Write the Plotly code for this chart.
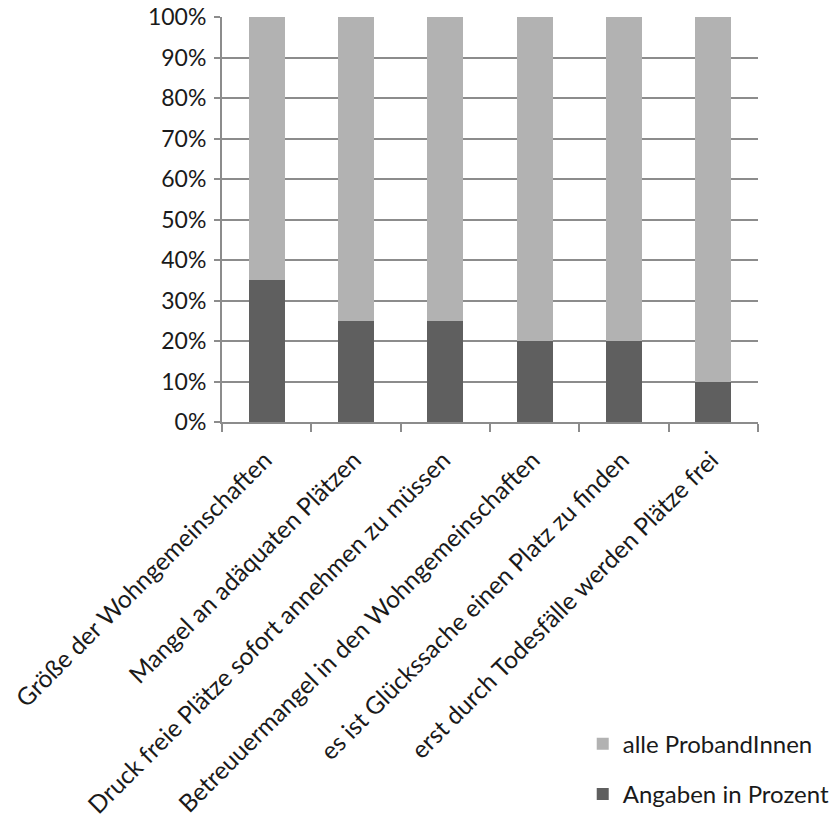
import plotly.graph_objects as go

categories = ["Größe der Wohngemeinschaften",
              "Mangel an adäquaten Plätzen",
              "Druck freie Plätze sofort annehmen zu müssen",
              "Betreuuermangel in den Wohngemeinschaften",
              "es ist Glückssache einen Platz zu finden",
              "erst durch Todesfälle werden Plätze frei"]
angaben = [35, 25, 25, 20, 20, 10]
alle = [65, 75, 75, 80, 80, 90]

light = '#b2b2b2'
dark = '#5f5f5f'
axis_grey = '#8c8c8c'
font_name = 'Lato'

fig = go.Figure()
fig.add_trace(go.Bar(x=categories, y=angaben, name="Angaben in Prozent",
                     marker=dict(color=dark, line=dict(width=0)),
                     legendgroup='a', legendrank=2))
fig.add_trace(go.Bar(x=categories, y=alle, name="alle ProbandInnen",
                     marker=dict(color=light, line=dict(width=0)),
                     legendgroup='b', legendrank=1))

# page body adds 8px offset, so the figure is a bit smaller than the window
fig.update_layout(barmode='stack',
                  bargap=0.6,
                  width=829, height=820,
                  margin=dict(l=214, r=79, t=9, b=406, autoexpand=False),
                  plot_bgcolor='white',
                  paper_bgcolor='white',
                  font=dict(family=font_name, color='#1a1a1a', size=24),
                  showlegend=True,
                  legend=dict(traceorder='grouped',
                              tracegroupgap=16,
                              x=0.673, xanchor='left',
                              y=-0.74, yanchor='top',
                              font=dict(size=24),
                              itemwidth=30))

fig.update_xaxes(showline=True, linecolor=axis_grey, linewidth=2,
                 ticks='outside', tickson='boundaries', ticklen=8,
                 tickcolor=axis_grey, tickwidth=2,
                 tickangle=-45, tickfont=dict(size=24.5),
                 ticklabelstandoff=12, ticklabelshift=-2,
                 showgrid=False, automargin=False)
fig.update_yaxes(range=[0, 100], dtick=10, ticksuffix='%',
                 showline=True, linecolor=axis_grey, linewidth=2,
                 showgrid=True, gridcolor=axis_grey, gridwidth=2,
                 ticks='outside', ticklen=6, tickcolor=axis_grey, tickwidth=2,
                 ticklabelstandoff=3, ticklabeloverflow='allow',
                 zeroline=False, tickfont=dict(size=23), automargin=False)

fig.write_html("out.html")
